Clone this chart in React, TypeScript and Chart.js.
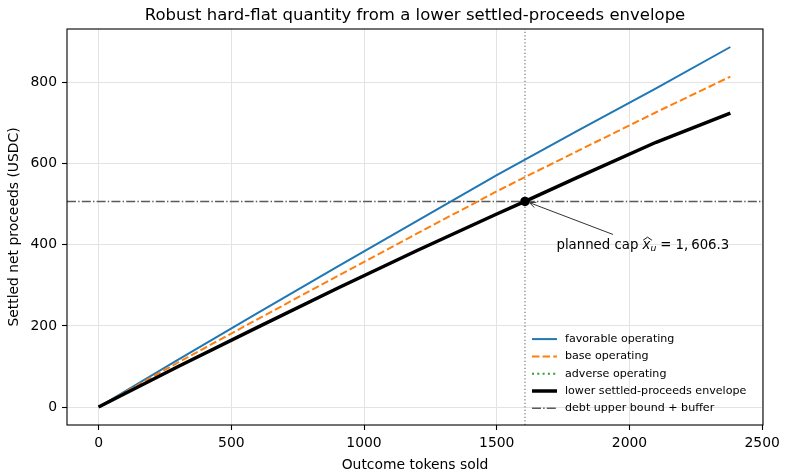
import React, { useRef, useEffect } from "react";
import { Chart, registerables } from "chart.js";

Chart.register(...registerables);

const FONT = "'DejaVu Sans', sans-serif";

// outcome tokens sold (x) and settled net proceeds (USDC) per scenario
const TOKENS_SOLD = [0, 300, 600, 900, 1200, 1500, 1606.3, 1800, 2100, 2380];
const FAVORABLE = [0, 117, 232, 346, 459, 572, 610, 680, 786, 888];
const BASE = [0, 110, 217, 323, 428, 532, 567, 630, 727, 815];
const ADVERSE = [0, 100, 197, 293, 386, 476, 507, 565, 653, 725];
const ENVELOPE = [0, 100, 197, 293, 386, 476, 507, 565, 653, 725];

const CAP_X = 1606.3;
const DEBT_BOUND = 507;

const X_MIN = -119;
const X_MAX = 2503;
const Y_MIN = -44.4;
const Y_MAX = 932.4;
const X_TICKS = [0, 500, 1000, 1500, 2000, 2500];
const Y_TICKS = [0, 200, 400, 600, 800];

const TITLE = "Robust hard-flat quantity from a lower settled-proceeds envelope";
const X_LABEL = "Outcome tokens sold";
const Y_LABEL = "Settled net proceeds (USDC)";

const toPoints = (ys: number[]) => TOKENS_SOLD.map((x, i) => ({ x, y: ys[i] }));

// axes frame, title, axis labels, legend and the cap annotation
const decorPlugin = {
  id: "decor",
  afterDraw(chart: any) {
    const { ctx, chartArea, scales } = chart;
    const { left, top, right, bottom } = chartArea;
    ctx.save();

    ctx.strokeStyle = "#000";
    ctx.lineWidth = 1.1;
    ctx.setLineDash([]);
    ctx.strokeRect(left, top, right - left, bottom - top);

    ctx.fillStyle = "#000";
    ctx.textAlign = "center";
    ctx.textBaseline = "alphabetic";
    ctx.font = `16.5px ${FONT}`;
    ctx.fillText(TITLE, (left + right) / 2, 19.5);

    ctx.font = `13.9px ${FONT}`;
    ctx.fillText(X_LABEL, (left + right) / 2, 469);
    ctx.save();
    ctx.translate(18, (top + bottom) / 2);
    ctx.rotate(-Math.PI / 2);
    ctx.fillText(Y_LABEL, 0, 0);
    ctx.restore();

    // legend (lower right, no frame)
    const items = chart.data.datasets.filter((d: any) => d.inLegend);
    const rowH = 17.3;
    const lx = right - 231;
    items.forEach((d: any, i: number) => {
      const ry = bottom - 16.7 - (items.length - 1 - i) * rowH;
      ctx.strokeStyle = d.borderColor;
      ctx.lineWidth = d.borderWidth;
      ctx.setLineDash(d.borderDash || []);
      ctx.beginPath();
      ctx.moveTo(lx, ry);
      ctx.lineTo(lx + 25, ry);
      ctx.stroke();
      ctx.setLineDash([]);
      ctx.fillStyle = "#000";
      ctx.font = `11.1px ${FONT}`;
      ctx.textAlign = "left";
      ctx.textBaseline = "middle";
      ctx.fillText(d.label, lx + 33, ry);
    });

    // annotation arrow + math text
    const px = scales.x.getPixelForValue(CAP_X);
    const py = scales.y.getPixelForValue(DEBT_BOUND);
    const tail = { x: px + 88, y: py + 33 };
    const head = { x: px + 4.5, y: py + 1.2 };
    ctx.strokeStyle = "#333";
    ctx.lineWidth = 1;
    ctx.beginPath();
    ctx.moveTo(tail.x, tail.y);
    ctx.lineTo(head.x, head.y);
    const ang = Math.atan2(tail.y - head.y, tail.x - head.x);
    for (const s of [-0.42, 0.42]) {
      ctx.moveTo(head.x, head.y);
      ctx.lineTo(head.x + 7 * Math.cos(ang + s), head.y + 7 * Math.sin(ang + s));
    }
    ctx.stroke();

    const fs = 13.3;
    let tx = px + 31.5;
    const base = py + 47.5;
    ctx.fillStyle = "#000";
    ctx.textAlign = "left";
    ctx.textBaseline = "alphabetic";
    ctx.font = `${fs}px ${FONT}`;
    ctx.fillText("planned cap ", tx, base);
    tx += ctx.measureText("planned cap ").width;
    ctx.font = `italic ${fs}px ${FONT}`;
    ctx.fillText("x", tx, base);
    const xw = ctx.measureText("x").width;
    ctx.strokeStyle = "#000";
    ctx.lineWidth = 0.9;
    ctx.beginPath();
    ctx.moveTo(tx + 0.5, base - 8.7);
    ctx.lineTo(tx + xw / 2 + 1, base - 11.8);
    ctx.lineTo(tx + xw + 1.5, base - 8.7);
    ctx.stroke();
    tx += xw;
    ctx.font = `italic ${fs * 0.7}px ${FONT}`;
    ctx.fillText("u", tx, base + 2);
    tx += ctx.measureText("u").width + 4;
    ctx.font = `${fs}px ${FONT}`;
    ctx.fillText("=", tx, base);
    tx += ctx.measureText("=").width + 4;
    ctx.fillText("1,", tx, base);
    tx += ctx.measureText("1,").width + 3;
    ctx.fillText("606.3", tx, base);

    ctx.restore();
  },
};

const App: React.FC = () => {
  const canvasRef = useRef<HTMLCanvasElement | null>(null);
  const chartRef = useRef<Chart | null>(null);

  useEffect(() => {
    document.body.style.margin = "0";
    if (!canvasRef.current) return;
    if (chartRef.current) chartRef.current.destroy();

    const tickFont = { family: FONT, size: 13.9 };

    chartRef.current = new Chart(canvasRef.current, {
      type: "scatter",
      data: {
        datasets: [
          {
            label: "favorable operating",
            data: toPoints(FAVORABLE),
            showLine: true,
            borderColor: "#1f77b4",
            borderWidth: 2,
            pointRadius: 0,
            order: 4,
            inLegend: true,
          },
          {
            label: "base operating",
            data: toPoints(BASE),
            showLine: true,
            borderColor: "#ff7f0e",
            borderWidth: 2,
            borderDash: [7.4, 3.2],
            pointRadius: 0,
            order: 3,
            inLegend: true,
          },
          {
            label: "adverse operating",
            data: toPoints(ADVERSE),
            showLine: true,
            borderColor: "#2ca02c",
            borderWidth: 2,
            borderDash: [2, 3.3],
            pointRadius: 0,
            order: 2,
            inLegend: true,
          },
          {
            label: "lower settled-proceeds envelope",
            data: toPoints(ENVELOPE),
            showLine: true,
            borderColor: "#000000",
            borderWidth: 3.5,
            pointRadius: 0,
            order: 1,
            inLegend: true,
          },
          {
            label: "debt upper bound + buffer",
            data: [
              { x: X_MIN, y: DEBT_BOUND },
              { x: X_MAX, y: DEBT_BOUND },
            ],
            showLine: true,
            borderColor: "#5a5a5a",
            borderWidth: 1.4,
            borderDash: [9, 2.2, 1.4, 2.2],
            pointRadius: 0,
            order: 5,
            inLegend: true,
          },
          {
            label: "cap",
            data: [
              { x: CAP_X, y: Y_MIN },
              { x: CAP_X, y: Y_MAX },
            ],
            showLine: true,
            borderColor: "#808080",
            borderWidth: 1.3,
            borderDash: [1.3, 2.2],
            pointRadius: 0,
            order: 6,
          },
          {
            label: "cap point",
            data: [{ x: CAP_X, y: DEBT_BOUND }],
            showLine: false,
            pointRadius: 4.8,
            pointBackgroundColor: "#000",
            pointBorderWidth: 0,
            order: 0,
          },
        ] as any,
      },
      options: {
        responsive: false,
        animation: false,
        events: [],
        layout: { padding: { left: 0, top: 29, right: 22, bottom: 0 } },
        elements: { line: { tension: 0 } },
        plugins: {
          legend: { display: false },
          title: { display: false },
          tooltip: { enabled: false },
        },
        scales: {
          x: {
            type: "linear",
            min: X_MIN,
            max: X_MAX,
            afterBuildTicks: (s: any) => {
              s.ticks = X_TICKS.map((value) => ({ value }));
            },
            afterFit: (s: any) => {
              s.height = 50;
            },
            ticks: {
              font: tickFont,
              color: "#000",
              padding: 5,
              maxRotation: 0,
              autoSkip: false,
              callback: (v: any) => String(v),
            },
            grid: {
              color: "#e3e3e3",
              lineWidth: 1,
              tickColor: "#000",
              tickLength: 5,
              tickWidth: 1.1,
            },
            border: { display: false },
          },
          y: {
            type: "linear",
            min: Y_MIN,
            max: Y_MAX,
            afterBuildTicks: (s: any) => {
              s.ticks = Y_TICKS.map((value) => ({ value }));
            },
            afterFit: (s: any) => {
              s.width = 67;
            },
            ticks: {
              font: tickFont,
              color: "#000",
              padding: 5,
              autoSkip: false,
              callback: (v: any) => String(v),
            },
            grid: {
              color: "#e3e3e3",
              lineWidth: 1,
              tickColor: "#000",
              tickLength: 5,
              tickWidth: 1.1,
            },
            border: { display: false },
          },
        },
      } as any,
      plugins: [decorPlugin],
    });

    return () => {
      if (chartRef.current) {
        chartRef.current.destroy();
        chartRef.current = null;
      }
    };
  }, []);

  return (
    <div style={{ width: 785, height: 475 }}>
      <canvas ref={canvasRef} width={785} height={475}></canvas>
    </div>
  );
};

export default App;
